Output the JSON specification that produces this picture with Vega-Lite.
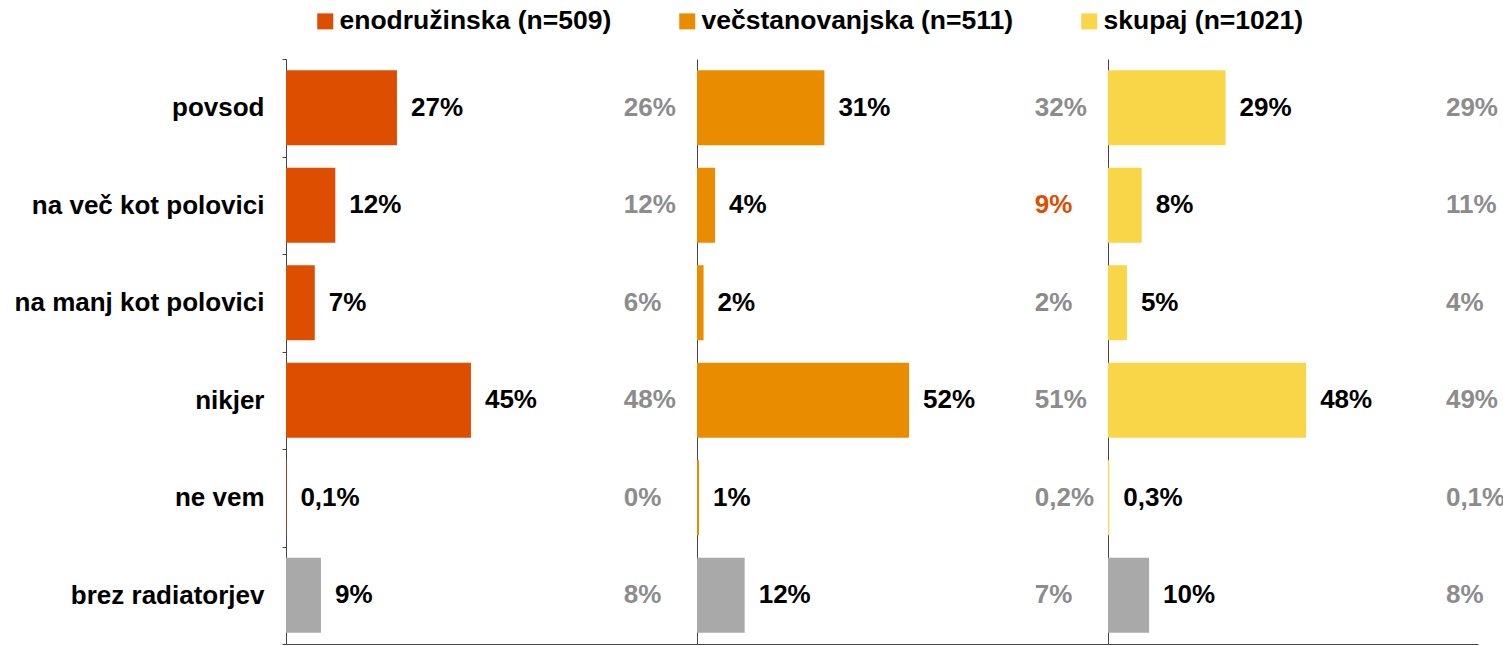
{
  "$schema": "https://vega.github.io/schema/vega-lite/v6.json",
  "padding": {"left": 5, "top": 8, "right": 0, "bottom": 0},
  "config": {"font": "Liberation Sans", "view": {"stroke": null}, "concat": {"spacing": 0}},
  "data": {"values": [
    {"g": "enodružinska (n=509)", "cat": "povsod", "v": 27, "lab": "27%", "cmp": "26%"},
    {"g": "enodružinska (n=509)", "cat": "na več kot polovici", "v": 12, "lab": "12%", "cmp": "12%"},
    {"g": "enodružinska (n=509)", "cat": "na manj kot polovici", "v": 7, "lab": "7%", "cmp": "6%"},
    {"g": "enodružinska (n=509)", "cat": "nikjer", "v": 45, "lab": "45%", "cmp": "48%"},
    {"g": "enodružinska (n=509)", "cat": "ne vem", "v": 0.1, "lab": "0,1%", "cmp": "0%"},
    {"g": "enodružinska (n=509)", "cat": "brez radiatorjev", "v": 8.5, "lab": "9%", "cmp": "8%"},
    {"g": "večstanovanjska (n=511)", "cat": "povsod", "v": 31, "lab": "31%", "cmp": "32%"},
    {"g": "večstanovanjska (n=511)", "cat": "na več kot polovici", "v": 4.4, "lab": "4%", "cmp": "9%"},
    {"g": "večstanovanjska (n=511)", "cat": "na manj kot polovici", "v": 1.6, "lab": "2%", "cmp": "2%"},
    {"g": "večstanovanjska (n=511)", "cat": "nikjer", "v": 51.6, "lab": "52%", "cmp": "51%"},
    {"g": "večstanovanjska (n=511)", "cat": "ne vem", "v": 0.5, "lab": "1%", "cmp": "0,2%"},
    {"g": "večstanovanjska (n=511)", "cat": "brez radiatorjev", "v": 11.6, "lab": "12%", "cmp": "7%"},
    {"g": "skupaj (n=1021)", "cat": "povsod", "v": 28.6, "lab": "29%", "cmp": "29%"},
    {"g": "skupaj (n=1021)", "cat": "na več kot polovici", "v": 8.2, "lab": "8%", "cmp": "11%"},
    {"g": "skupaj (n=1021)", "cat": "na manj kot polovici", "v": 4.6, "lab": "5%", "cmp": "4%"},
    {"g": "skupaj (n=1021)", "cat": "nikjer", "v": 48.2, "lab": "48%", "cmp": "49%"},
    {"g": "skupaj (n=1021)", "cat": "ne vem", "v": 0.3, "lab": "0,3%", "cmp": "0,1%"},
    {"g": "skupaj (n=1021)", "cat": "brez radiatorjev", "v": 10, "lab": "10%", "cmp": "8%"}
  ]},
  "resolve": {"scale": {"x": "independent"}},
  "hconcat": [
    {
      "width": 411, "height": 585,
      "transform": [{"filter": "datum.g === 'enodružinska (n=509)'"}],
      "encoding": {
        "y": {"field": "cat", "type": "nominal",
          "sort": ["povsod", "na več kot polovici", "na manj kot polovici", "nikjer", "ne vem", "brez radiatorjev"],
          "scale": {"paddingInner": 0, "paddingOuter": 0},
          "axis": {"title": null, "labelFontSize": 26, "labelFontWeight": "bold", "labelColor": "#000000", "labelPadding": 18, "labelLimit": 400, "tickBand": "extent", "tickSize": 4, "tickColor": "#444444", "domainColor": "#444444", "grid": false, "minExtent": 281, "maxExtent": 281}}
      },
      "layer": [
        {"mark": {"type": "bar", "height": {"band": 0.77}},
         "encoding": {
           "x": {"field": "v", "type": "quantitative", "scale": {"domain": [0, 100]}, "axis": {"title": null, "labels": false, "ticks": false, "grid": false, "domainColor": "#444444"}},
           "color": {"condition": {"test": "datum.cat === 'brez radiatorjev'", "value": "#A9A9A9"},
             "field": "g", "type": "nominal",
             "scale": {"domain": ["enodružinska (n=509)", "večstanovanjska (n=511)", "skupaj (n=1021)"], "range": ["#DD4E00", "#EA8C00", "#F9D548"]},
             "legend": {"orient": "none", "legendX": 26, "legendY": -51, "direction": "horizontal", "title": null, "symbolType": "square", "symbolSize": 256, "symbolStrokeWidth": 0, "labelFontSize": 26.5, "labelFontWeight": "bold", "labelColor": "#000000", "labelLimit": 400, "columnPadding": 62, "labelOffset": 1}}
         }},
        {"mark": {"type": "text", "align": "left", "dx": 14, "fontSize": 26, "fontWeight": "bold", "color": "#000000"},
         "encoding": {"x": {"field": "v", "type": "quantitative"}, "text": {"field": "lab"}}},
        {"mark": {"type": "text", "align": "left", "fontSize": 26, "fontWeight": "bold"},
         "encoding": {"x": {"datum": 82.2}, "text": {"field": "cmp"}, "color": {"value": "#8C8C8C"}}}
      ]
    },
    {
      "width": 411, "height": 585,
      "transform": [{"filter": "datum.g === 'večstanovanjska (n=511)'"}],
      "encoding": {
        "y": {"field": "cat", "type": "nominal",
          "sort": ["povsod", "na več kot polovici", "na manj kot polovici", "nikjer", "ne vem", "brez radiatorjev"],
          "scale": {"paddingInner": 0, "paddingOuter": 0},
          "axis": {"title": null, "labels": false, "ticks": false, "domainColor": "#444444", "grid": false}}
      },
      "layer": [
        {"mark": {"type": "bar", "height": {"band": 0.77}},
         "encoding": {
           "x": {"field": "v", "type": "quantitative", "scale": {"domain": [0, 100]}, "axis": {"title": null, "labels": false, "ticks": false, "grid": false, "domainColor": "#444444"}},
           "color": {"condition": {"test": "datum.cat === 'brez radiatorjev'", "value": "#A9A9A9"},
             "field": "g", "type": "nominal"}
         }},
        {"mark": {"type": "text", "align": "left", "dx": 14, "fontSize": 26, "fontWeight": "bold", "color": "#000000"},
         "encoding": {"x": {"field": "v", "type": "quantitative"}, "text": {"field": "lab"}}},
        {"mark": {"type": "text", "align": "left", "fontSize": 26, "fontWeight": "bold"},
         "encoding": {"x": {"datum": 82.2}, "text": {"field": "cmp"},
           "color": {"condition": {"test": "datum.cat === 'na več kot polovici'", "value": "#DD4E00"}, "value": "#8C8C8C"}}}
      ]
    },
    {
      "width": 370, "height": 585,
      "transform": [{"filter": "datum.g === 'skupaj (n=1021)'"}],
      "encoding": {
        "y": {"field": "cat", "type": "nominal",
          "sort": ["povsod", "na več kot polovici", "na manj kot polovici", "nikjer", "ne vem", "brez radiatorjev"],
          "scale": {"paddingInner": 0, "paddingOuter": 0},
          "axis": {"title": null, "labels": false, "ticks": false, "domainColor": "#444444", "grid": false}}
      },
      "layer": [
        {"mark": {"type": "bar", "height": {"band": 0.77}},
         "encoding": {
           "x": {"field": "v", "type": "quantitative", "scale": {"domain": [0, 90]}, "axis": {"title": null, "labels": false, "ticks": false, "grid": false, "domainColor": "#444444"}},
           "color": {"condition": {"test": "datum.cat === 'brez radiatorjev'", "value": "#A9A9A9"},
             "field": "g", "type": "nominal"}
         }},
        {"mark": {"type": "text", "align": "left", "dx": 14, "fontSize": 26, "fontWeight": "bold", "color": "#000000"},
         "encoding": {"x": {"field": "v", "type": "quantitative"}, "text": {"field": "lab"}}},
        {"mark": {"type": "text", "align": "left", "fontSize": 26, "fontWeight": "bold"},
         "encoding": {"x": {"datum": 82.2}, "text": {"field": "cmp"}, "color": {"value": "#8C8C8C"}}}
      ]
    }
  ]
}
